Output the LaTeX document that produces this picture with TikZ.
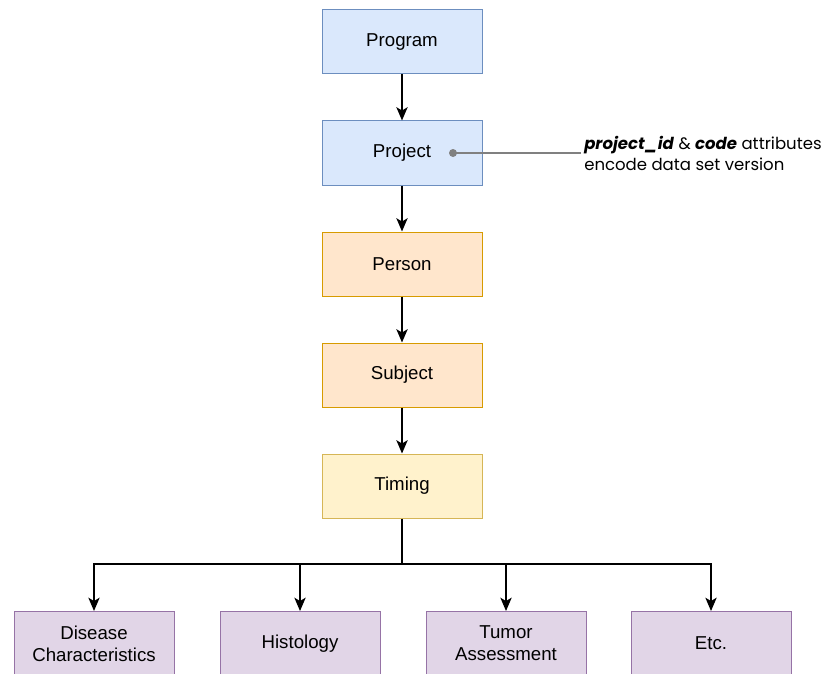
\documentclass[tikz,border=0pt]{standalone}
\usepackage{fontspec}
\setmainfont{Liberation Sans}
\newfontfamily\annotfont{Poppins}
\usetikzlibrary{arrows.meta}
\definecolor{bluefill}{HTML}{DAE8FC}\definecolor{bluedraw}{HTML}{6C8EBF}
\definecolor{orfill}{HTML}{FFE6CC}\definecolor{ordraw}{HTML}{D79B00}
\definecolor{yefill}{HTML}{FFF2CC}\definecolor{yedraw}{HTML}{D6B656}
\definecolor{pufill}{HTML}{E1D5E7}\definecolor{pudraw}{HTML}{9673A6}
\definecolor{annline}{HTML}{808080}
\tikzset{
  box/.style={draw, line width=0.75pt, minimum width=120pt, minimum height=48pt, inner sep=0pt, align=center, font=\fontsize{14}{16.5}\selectfont},
  bluebox/.style={box, fill=bluefill, draw=bluedraw},
  orbox/.style={box, fill=orfill, draw=ordraw},
  yebox/.style={box, fill=yefill, draw=yedraw},
  pubox/.style={box, fill=pufill, draw=pudraw},
  arr/.style={line width=1pt, -{Stealth[length=10pt,width=8.5pt,inset=2.5pt]}},
}
\begin{document}
\begin{tikzpicture}[x=0.75pt,y=-0.75pt]
\useasboundingbox (0,0) rectangle (825,674);
\clip (0,0) rectangle (825,674);
\node[bluebox] (prog) at (402,42) {Program};
\node[bluebox] (proj) at (402,153) {Project};
\node[orbox] (pers) at (402,264) {Person};
\node[orbox] (subj) at (402,375) {Subject};
\node[yebox] (tim) at (402,486) {Timing};
\node[pubox] (dis) at (94,643.5) {Disease\\Characteristics};
\node[pubox] (his) at (300,643.5) {Histology};
\node[pubox] (tum) at (506,643.5) {Tumor\\Assessment};
\node[pubox] (etc) at (711,643.5) {Etc.};
\draw[arr] (prog) -- (proj);
\draw[arr] (proj) -- (pers);
\draw[arr] (pers) -- (subj);
\draw[arr] (subj) -- (tim);
\coordinate (br) at (402,564);
\draw[line width=1pt] (tim.south) -- (br);
\foreach \n in {dis,his,tum,etc} \draw[arr] (br) -| (\n.north);
\coordinate (dot) at (453,153);
\coordinate (lend) at (581,153);
\fill[annline] (dot) circle (3pt);
\draw[annline, line width=1.2pt] (dot) -- (lend);
\node[anchor=west, align=left, inner sep=0pt, font=\annotfont\fontsize{12.4}{16}\selectfont] (ann) at (584,153.5) {\textbf{\textit{project\_id}} \& \textbf{\textit{code}} attributes\\encode data set version};
\end{tikzpicture}
\end{document}
